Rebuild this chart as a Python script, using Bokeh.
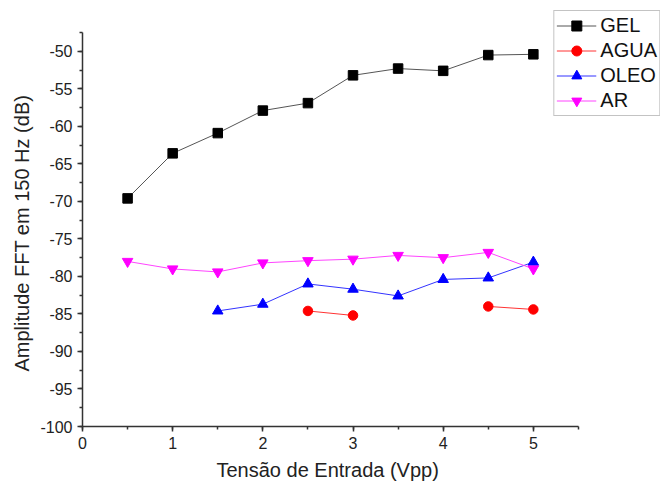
import numpy as np
from bokeh.plotting import figure
from bokeh.models import Range1d, SingleIntervalTicker, Legend, LegendItem, PrintfTickFormatter, Title
from bokeh.embed import file_html
from bokeh.resources import INLINE

nan = np.nan

x_gel = [0.5, 1, 1.5, 2, 2.5, 3, 3.5, 4, 4.5, 5]
y_gel = [-69.6, -63.6, -60.9, -57.9, -56.9, -53.2, -52.3, -52.6, -50.5, -50.4]

x_agua = [2.5, 3, 3.5, 4, 4.5, 5]
y_agua = [-84.6, -85.2, nan, nan, -84.0, -84.4]

x_oleo = [1.5, 2, 2.5, 3, 3.5, 4, 4.5, 5]
y_oleo = [-84.6, -83.7, -81.0, -81.7, -82.6, -80.4, -80.2, -78.1]

x_ar = [0.5, 1, 1.5, 2, 2.5, 3, 3.5, 4, 4.5, 5]
y_ar = [-78.0, -79.0, -79.4, -78.2, -77.9, -77.7, -77.2, -77.5, -76.8, -79.0]

x_title = "Tensão de Entrada (Vpp)"
y_title = "Amplitude FFT em 150 Hz (dB)"

FONT = "Liberation Sans"

p = figure(width=663, height=485, output_backend="svg", toolbar_location=None,
           x_range=Range1d(0, 6.41), y_range=Range1d(-100, -44.56),
           min_border_left=82, min_border_right=3, min_border_top=10, min_border_bottom=57)
p.outline_line_color = None
p.grid.visible = False
p.background_fill_color = "white"

series = [
    ("GEL", x_gel, y_gel, "#000000", "#555555", "square", 9.5),
    ("AGUA", x_agua, y_agua, "#ff0000", "#ff3333", "circle", 9.5),
    ("OLEO", x_oleo, y_oleo, "#0000ff", "#3333ff", "triangle", 10.5),
    ("AR", x_ar, y_ar, "#ff00ff", "#ff44ff", "inverted_triangle", 10.5),
]

items = []
for name, xs, ys, mc, lc, mk, sz in series:
    r1 = p.line(xs, ys, line_color=lc, line_width=1)
    r2 = p.scatter(xs, ys, marker=mk, size=sz, fill_color=mc, line_color=mc)
    items.append(LegendItem(label=name, renderers=[r1, r2]))

legend = Legend(items=items, location="top_right")
legend.label_text_font = FONT
legend.label_text_font_size = "20px"
legend.label_text_color = "#111111"
legend.glyph_width = 40
legend.glyph_height = 25
legend.label_height = 25
legend.spacing = 0
legend.padding = 2
legend.margin = 0
legend.label_standoff = 4
legend.border_line_color = "#888888"
legend.border_line_width = 1.5
p.add_layout(legend)

p.xaxis.ticker = SingleIntervalTicker(interval=1, num_minor_ticks=2)
p.yaxis.ticker = SingleIntervalTicker(interval=5, num_minor_ticks=2)
p.yaxis.formatter = PrintfTickFormatter(format="%d")
p.xaxis.bounds = (0, 5.5)
p.yaxis.bounds = (-100, -47.5)

for ax in (p.xaxis[0], p.yaxis[0]):
    ax.axis_line_color = "#333333"
    ax.axis_line_width = 1.5
    ax.major_tick_line_color = "#333333"
    ax.minor_tick_line_color = "#333333"
    ax.major_tick_line_width = 1.5
    ax.minor_tick_line_width = 1.5
    ax.major_tick_out = 5
    ax.major_tick_in = 0
    ax.minor_tick_out = 3
    ax.minor_tick_in = 0
    ax.major_label_text_font = FONT
    ax.major_label_text_font_size = "16px"
    ax.major_label_text_color = "#222222"

# axis titles placed as in the original (centred on the bounded axes)
p.add_layout(Title(text=x_title, align="left", offset=134, standoff=10,
                   text_font=FONT, text_font_size="20px", text_font_style="normal",
                   text_color="#222222"), "below")
p.add_layout(Title(text=y_title, align="left", offset=55, standoff=9,
                   text_font=FONT, text_font_size="20px", text_font_style="normal",
                   text_color="#222222"), "left")

open("out.html", "w").write(file_html(p, INLINE))
